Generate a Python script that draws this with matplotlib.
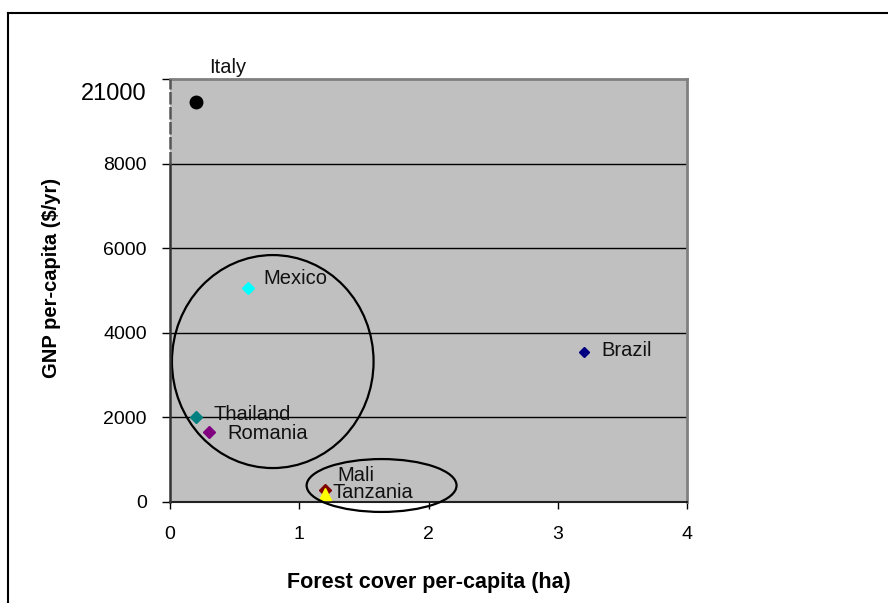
import matplotlib
matplotlib.use("Agg")
import matplotlib.pyplot as plt
from matplotlib.patches import Ellipse
from matplotlib.lines import Line2D

plt.rcParams['font.family'] = ['Liberation Sans', 'DejaVu Sans']

# ---- data ----
countries = ["Italy", "Mexico", "Thailand", "Romania", "Mali", "Tanzania", "Brazil"]
forest_ha = [0.2, 0.6, 0.2, 0.3, 1.2, 1.2, 3.2]
gnp_plot = [9450, 5050, 2000, 1650, 280, 200, 3550]   # Italy drawn on broken axis
markers = ["o", "D", "D", "D", "D", "^", "D"]
colors = ["#000000", "#00FFFF", "#008080", "#800080", "#800000", "#FFFF00", "#000080"]
marker_sizes = [9, 6, 6, 6, 6, 8, 5]
label_offsets = [(32, 35), (16, 10), (18, 3), (19, -1), (12, 15), (7, 1), (18, 1)]
label_ha = ["center", "left", "left", "left", "left", "left", "left"]

x_ticks = [0, 1, 2, 3, 4]
y_ticks = [0, 2000, 4000, 6000, 8000, 10000]
y_tick_labels = ["0", "2000", "4000", "6000", "8000", ""]
break_label = "21000"
break_label_y = 9650

# ellipse groupings: (center_x, center_y, width, height)
ellipses = [(0.795, 3320, 1.56, 5035), (1.637, 390, 1.16, 1250)]

fig = plt.figure(figsize=(8.88, 6.03), dpi=100)
ax = fig.add_axes([170/888, 1 - 502/603, (687-170)/888, (502-79)/603])
ax.set_facecolor("#C0C0C0")
ax.set_xlim(0, 4)
ax.set_ylim(0, 10000)

for y in y_ticks[1:-1]:
    ax.axhline(y, color="black", lw=1.0, zorder=1)

for x, y, m, c, s in zip(forest_ha, gnp_plot, markers, colors, marker_sizes):
    ax.plot([x], [y], marker=m, color=c, markersize=s, linestyle="none", zorder=3)

for name, x, y, off, ha in zip(countries, forest_ha, gnp_plot, label_offsets, label_ha):
    ax.annotate(name, (x, y), xytext=off, textcoords="offset pixels",
                ha=ha, va="center", fontsize=14.5, color="#111111",
                annotation_clip=False, zorder=4)

for cx, cy, w, h in ellipses:
    ax.add_patch(Ellipse((cx, cy), w, h, fill=False, edgecolor="black",
                         lw=1.6, clip_on=False, zorder=5))

ax.set_xticks(x_ticks)
ax.set_xticklabels([str(t) for t in x_ticks])
ax.set_yticks(y_ticks)
ax.set_yticklabels(y_tick_labels)
ax.tick_params(axis="x", direction="out", length=5, width=1, pad=12, labelsize=14)
ax.tick_params(axis="y", direction="out", length=5.8, width=1, pad=11, labelsize=14)

ax.text(-24/517, break_label_y, break_label, transform=ax.get_yaxis_transform(),
        ha="right", va="center", fontsize=17)

for side in ["top", "right"]:
    ax.spines[side].set_color("#808080")
    ax.spines[side].set_linewidth(2)
ax.spines["bottom"].set_color("#222222")
ax.spines["bottom"].set_linewidth(1.5)
ax.spines["left"].set_visible(False)
ax.plot([0, 0], [0, 8000], color="#333333", lw=1.8, clip_on=False, zorder=6)
ax.plot([0, 0], [8000, 10000], color="#555555", lw=1.8, clip_on=False, zorder=6,
        linestyle=(0, (5, 1)))

ax.set_xlabel("Forest cover per-capita (ha)", fontsize=15.5, fontweight="bold", labelpad=21)
ax.set_ylabel("GNP per-capita ($/yr)", fontsize=14.5, fontweight="bold")
ax.yaxis.set_label_coords(-109/517, 0.53)

# outer frame (left and top edges visible)
fig.add_artist(Line2D([8/888, 8/888], [0, 1 - 13/603], color="black", lw=1.5,
                      transform=fig.transFigure))
fig.add_artist(Line2D([8/888, 1], [1 - 13/603, 1 - 13/603], color="black", lw=1.5,
                      transform=fig.transFigure))

fig.savefig("out.png", dpi=100)
